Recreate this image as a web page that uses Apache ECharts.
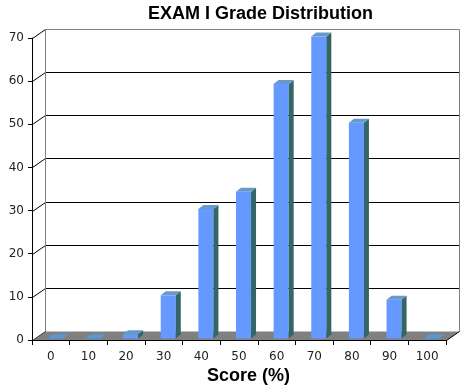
<!DOCTYPE html>
<html>
<head>
<meta charset="utf-8">
<script src="https://cdn.jsdelivr.net/npm/echarts@6/dist/echarts.min.js"></script>
<style>html,body{margin:0;padding:0;background:#fff;}#c{width:475px;height:387px;}</style>
</head>
<body>
<div id="c"></div>
<script>
const categories = ['0','10','20','30','40','50','60','70','80','90','100'];
const counts = [0, 0, 1, 10, 30, 34, 59, 70, 50, 9, 0];
const yTicks = [0, 10, 20, 30, 40, 50, 60, 70];

const DX = 13, DY = -9;

const chart = echarts.init(document.getElementById('c'), null, {renderer: 'canvas'});

function backdrop(params, api) {
  const cs = params.coordSys;
  const L = cs.x + 0.5, R = cs.x + cs.width + 0.5, T = cs.y, B = cs.y + cs.height + 0.5;
  const kids = [];
  kids.push({type: 'polygon', shape: {points: [[L, B], [R, B], [R + DX, B + DY], [L + DX, B + DY]]},
    style: {fill: '#808080'}});
  yTicks.forEach(function (v) {
    const y = Math.round(api.coord([0, v])[1]) + 0.5;
    if (v > 0 && v < 70) {
      kids.push({type: 'line', shape: {x1: L + DX, y1: y + DY, x2: R + DX, y2: y + DY},
        style: {stroke: '#000', lineWidth: 1}});
    }
    if (v > 0) {
      kids.push({type: 'line', shape: {x1: L, y1: y, x2: L + DX, y2: y + DY},
        style: {stroke: '#000', lineWidth: 1}});
    }
  });
  const yTop = Math.round(api.coord([0, 70])[1]) + 0.5;
  kids.push({type: 'polyline', shape: {points: [[L + DX, B + DY], [L + DX, yTop + DY], [R + DX, yTop + DY], [R + DX, B + DY]]},
    style: {stroke: '#808080', lineWidth: 1, fill: null}});
  kids.push({type: 'line', shape: {x1: L, y1: B, x2: L + DX, y2: B + DY}, style: {stroke: '#333', lineWidth: 1}});
  kids.push({type: 'line', shape: {x1: R, y1: B, x2: R + DX, y2: B + DY}, style: {stroke: '#000', lineWidth: 1}});
  return {type: 'group', children: kids};
}

function bar3d(params, api) {
  const idx = api.value(0), val = api.value(1);
  const band = api.size([1, 0])[0];
  const base = api.coord([idx, 0]);
  const top = api.coord([idx, val]);
  const w = band * 0.4;
  const ox = band * 0.12, oy = -1.5;
  const bx = 5, by = -4;
  const x0 = base[0] - w / 2 + ox, x1 = x0 + w;
  const yb = base[1] + oy, yt = top[1] + oy;
  const kids = [];
  if (val > 0) {
    kids.push({type: 'rect', shape: {x: x0, y: yt, width: w, height: yb - yt}, style: {fill: '#6699FF'}});
    kids.push({type: 'polygon', shape: {points: [[x1, yt], [x1 + bx, yt + by], [x1 + bx, yb + by], [x1, yb]]},
      style: {fill: '#336666'}});
    kids.push({type: 'polygon', shape: {points: [[x0, yt], [x0 + bx, yt + by], [x1 + bx, yt + by], [x1, yt]]},
      style: {fill: '#6699CC'}});
  } else {
    kids.push({type: 'polygon', shape: {points: [[x0, yb], [x0 + bx, yb + by], [x1 + bx, yb + by], [x1, yb]]},
      style: {fill: '#5599DD'}});
  }
  return {type: 'group', children: kids};
}

chart.setOption({
  animation: false,
  backgroundColor: '#fff',
  title: {
    text: 'EXAM I Grade Distribution',
    left: 143, top: 0,
    textStyle: {fontFamily: 'Liberation Sans, Arial', fontWeight: 'bold', fontSize: 18, color: '#000'}
  },
  graphic: [{
    type: 'text', left: 207, top: 367,
    style: {text: 'Score (%)', font: 'bold 18px "Liberation Sans", Arial', fill: '#000'}
  }],
  grid: {left: 32, right: 29, top: 38, bottom: 47, containLabel: false},
  xAxis: {
    type: 'category', data: categories, boundaryGap: true, z: 10,
    axisLine: {show: true, lineStyle: {color: '#000', width: 1}},
    axisTick: {show: true, inside: false, length: 5, lineStyle: {color: '#000'}},
    axisLabel: {fontFamily: 'DejaVu Sans', fontSize: 12, color: '#222', margin: 11},
    splitLine: {show: false}
  },
  yAxis: {
    type: 'value', min: 0, max: 70, interval: 10, z: 10,
    axisLine: {show: true, lineStyle: {color: '#000', width: 1}},
    axisTick: {show: true, inside: false, length: 4, lineStyle: {color: '#000'}},
    axisLabel: {fontFamily: 'DejaVu Sans', fontSize: 12, color: '#222', margin: 8},
    splitLine: {show: false}
  },
  series: [
    {type: 'custom', z: 1, renderItem: backdrop, data: [[0, 0]], silent: true, clip: false},
    {type: 'custom', z: 2, renderItem: bar3d, clip: false,
      data: counts.map(function (v, i) { return [i, v]; })}
  ]
});
</script>
</body>
</html>
